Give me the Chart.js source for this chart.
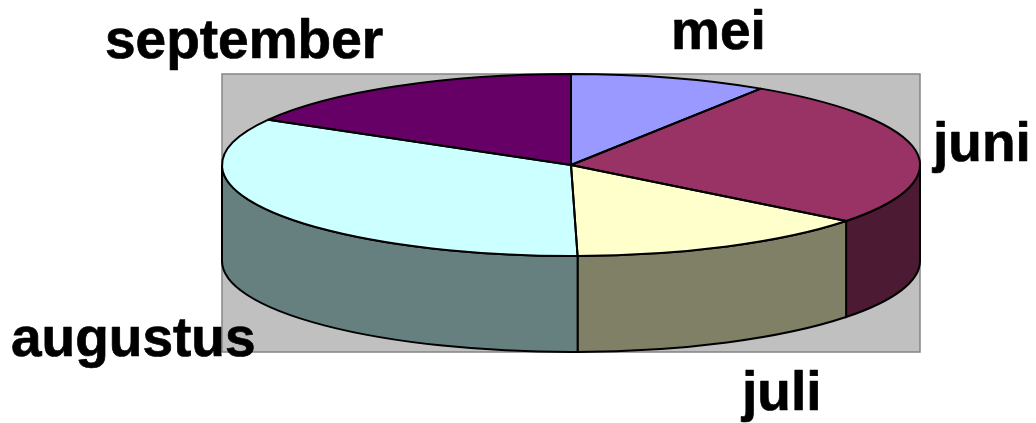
<!DOCTYPE html>
<html>
<head>
<meta charset="utf-8">
<style>
  html, body { margin: 0; padding: 0; background: #fff; overflow: hidden; }
  canvas { display: block; }
</style>
<script src="https://cdn.jsdelivr.net/npm/chart.js@4/dist/chart.umd.min.js"></script>
</head>
<body>
<canvas id="myChart" width="1036" height="423"></canvas>
<script>
// values
const months = ['mei', 'juni', 'juli', 'augustus', 'september'];
const shares = [9.15, 26.4, 14.15, 33.6, 16.7];

const topColors = ['#9999FF', '#993366', '#FFFFCC', '#CCFFFF', '#660066'];
const wallColors = ['#4D4D80', '#4D1A33', '#808066', '#668080', '#330033'];

// where each month's label sits (left x, baseline y)
const labelX = [671, 933, 742, 11, 105];
const labelY = [49, 161, 410, 356, 58];

const box = { left: 222, top: 74, right: 920, bottom: 352 };
const pieRx = 349;
const pieRy = 91;
const pieDepth = 96;

const tiltPie = {
    id: 'tiltPie',
    beforeDatasetsDraw(chart) {
        const ctx = chart.ctx;
        const arcs = chart.getDatasetMeta(0).data;
        const cx = arcs[0].x, cy = arcs[0].y;

        // grey plot area
        ctx.save();
        ctx.fillStyle = '#C0C0C0';
        ctx.strokeStyle = '#858585';
        ctx.lineWidth = 1.5;
        ctx.fillRect(box.left, box.top, box.right - box.left, box.bottom - box.top);
        ctx.strokeRect(box.left, box.top, box.right - box.left, box.bottom - box.top);

        // side walls, only the front half of the pie shows one
        ctx.strokeStyle = '#000';
        ctx.lineWidth = 2;
        arcs.forEach((arc, i) => {
            const from = Math.max(arc.startAngle, 0);
            const to = Math.min(arc.endAngle, Math.PI);
            if (to <= from) return;
            ctx.beginPath();
            ctx.ellipse(cx, cy, pieRx, pieRy, 0, from, to);
            ctx.ellipse(cx, cy + pieDepth, pieRx, pieRy, 0, to, from, true);
            ctx.closePath();
            ctx.fillStyle = wallColors[i];
            ctx.fill();
            ctx.stroke();
        });
        ctx.restore();

        // the library draws the slices, squashed into an ellipse
        const r = arcs[0].outerRadius;
        ctx.save();
        ctx.translate(cx, cy);
        ctx.scale(pieRx / r, pieRy / r);
        ctx.translate(-cx, -cy);
    },
    afterDatasetsDraw(chart) {
        const ctx = chart.ctx;
        ctx.restore();

        // outlines are stroked unscaled so the line stays even
        const arcs = chart.getDatasetMeta(0).data;
        ctx.save();
        ctx.strokeStyle = '#000';
        ctx.lineWidth = 2;
        ctx.lineJoin = 'round';
        arcs.forEach(arc => {
            ctx.beginPath();
            ctx.moveTo(arc.x, arc.y);
            ctx.ellipse(arc.x, arc.y, pieRx, pieRy, 0, arc.startAngle, arc.endAngle);
            ctx.closePath();
            ctx.stroke();
        });

        // month labels, a thin stroke makes them as heavy as the original
        ctx.fillStyle = '#000';
        ctx.lineWidth = 0.7;
        ctx.font = 'bold 55px "Liberation Sans", Arial, sans-serif';
        ctx.textAlign = 'left';
        ctx.textBaseline = 'alphabetic';
        months.forEach((m, i) => {
            ctx.fillText(m, labelX[i], labelY[i]);
            ctx.strokeText(m, labelX[i], labelY[i]);
        });
        ctx.restore();
    }
};

var myChart = new Chart(document.getElementById('myChart').getContext('2d'), {
    type: 'pie',
    data: {
        labels: months,
        datasets: [{
            data: shares,
            backgroundColor: topColors,
            borderWidth: 0
        }]
    },
    options: {
        responsive: false,
        animation: false,
        // puts the pie centre at 571,165
        layout: { padding: { left: 421, right: 315, top: 15, bottom: 108 } },
        plugins: {
            legend: { display: false },
            tooltip: { enabled: false }
        }
    },
    plugins: [tiltPie]
});
</script>
</body>
</html>
